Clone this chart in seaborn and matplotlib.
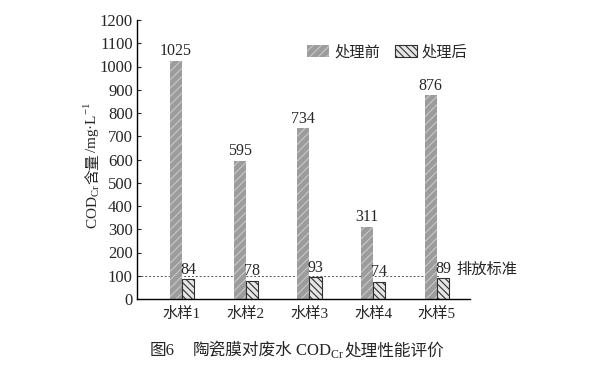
import pandas as pd
import seaborn as sns
import matplotlib.pyplot as plt

samples = ["水样1", "水样2", "水样3", "水样4", "水样5"]
before = [1025, 595, 734, 311, 876]
after = [84, 78, 93, 74, 89]
series = ["处理前", "处理后"]
standard = 100

FONTS = ["Liberation Serif", "Noto Sans CJK SC"]
W, H = 589, 367


def draw_pieces(fig, x, y, pieces, size, rotation=0):
    """Place text pieces one after another (pixel coords, y from top).
    A number in pieces is an extra gap in pixels."""
    renderer = fig.canvas.get_renderer()
    cx, cy = x, H - y
    for s in pieces:
        if isinstance(s, (int, float)):
            if rotation == 0:
                cx += s
            else:
                cy += s
            continue
        t = fig.text(cx / W, cy / H, s, fontsize=size, rotation=rotation,
                     rotation_mode="anchor", ha="left", va="baseline")
        bb = t.get_window_extent(renderer)
        if rotation == 0:
            cx += bb.width
        else:
            cy += bb.height


def main():
    sns.set_style("ticks")
    plt.rcParams["font.family"] = FONTS
    plt.rcParams["mathtext.fontset"] = "custom"
    plt.rcParams["mathtext.rm"] = "Liberation Serif"
    plt.rcParams["hatch.linewidth"] = 0.8

    df = pd.DataFrame({
        "sample": samples * 2,
        "value": before + after,
        "series": [series[0]] * len(samples) + [series[1]] * len(samples),
    })

    fig = plt.figure(figsize=(W / 100, H / 100), dpi=100)
    ax = fig.add_axes([137 / W, 1 - 299 / H, 333 / W, 279 / H])

    sns.barplot(data=df, x="sample", y="value", hue="series", hue_order=series,
                width=0.38, ax=ax, errorbar=None, legend=False)

    # style the two bar groups
    c_before, c_after = ax.containers[0], ax.containers[1]
    for p in c_before:
        p.set_facecolor("#9c9c9c")
        p.set_edgecolor("#c8c8c8")
        p.set_linewidth(0)
        p.set_hatch("////")
    for p in c_after:
        p.set_facecolor("#e6e6e6")
        p.set_edgecolor("#303030")
        p.set_linewidth(0.8)
        p.set_hatch("\\\\\\\\\\")

    # value labels
    ax.bar_label(c_before, labels=[str(v) for v in before], padding=1, fontsize=11.5)
    ax.bar_label(c_after, labels=[str(v) for v in after], padding=1, fontsize=11.5)

    # discharge standard line
    ax.axhline(standard, xmin=0, xmax=0.91, color="#555555", lw=0.7, ls=(0, (2, 2)), zorder=0.5)
    ax.text(4.31, 125, "排放标准", fontsize=11, va="center", ha="left", clip_on=False)

    ax.set_xlim(-0.706, 4.52)
    ax.set_ylim(0, 1200)
    ax.set_yticks(range(0, 1201, 100))
    ax.tick_params(axis="y", direction="in", length=3, width=0.8, labelsize=12, pad=3)
    ax.tick_params(axis="x", length=0, labelsize=11, pad=6)
    ax.set_xlabel("")
    ax.set_ylabel("")
    sns.despine(ax=ax)
    for s in ("left", "bottom"):
        ax.spines[s].set_linewidth(1.0)
        ax.spines[s].set_color("black")

    # legend
    handles = [c_before[0], c_after[0]]
    ax.legend(handles, series, loc="upper left", bbox_to_anchor=(0.47, 0.96), ncol=2,
              frameon=False, fontsize=11, handlelength=1.45, handleheight=0.8,
              handletextpad=0.3, columnspacing=1.0)

    # y label and caption, assembled from pieces so CJK and subscripts both render
    draw_pieces(fig, 97, 229, [r"COD$_{\mathrm{Cr}}$", "含量", r"/mg·L$^{-1}$"], 11, rotation=90)
    draw_pieces(fig, 150, 355, ["图6", 18, "陶瓷膜对废水", 2, r"COD$_{\mathrm{Cr}}$", 1, "处理性能评价"], 12)

    fig.savefig("out.png", dpi=100)
    plt.close(fig)


if __name__ == "__main__":
    main()
